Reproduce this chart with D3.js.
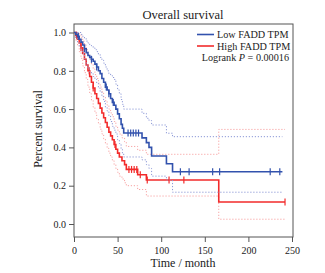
<!DOCTYPE html>
<html>
<head>
<meta charset="utf-8">
<script src="https://cdn.jsdelivr.net/npm/d3@7"></script>
<style>
  body { margin: 0; background: #fff; }
  text { font-family: "Liberation Serif", "DejaVu Serif", serif; fill: #222; }
</style>
</head>
<body>
<div id="chart"></div>
<script>
// Low FADD TPM: step times, survival and 95% CI
const lowTime  = [0, 2, 4, 6, 8, 10, 12, 14, 16, 18, 20, 22, 24, 26, 28, 30, 32, 34, 36, 38, 40, 42, 44, 46, 48, 50, 52, 54, 55.5, 57, 78, 83, 86, 89, 106, 113];
const lowSurv  = [1.0, 0.99, 0.98, 0.965, 0.95, 0.935, 0.915, 0.895, 0.88, 0.87, 0.86, 0.85, 0.835, 0.82, 0.80, 0.785, 0.76, 0.74, 0.715, 0.70, 0.68, 0.655, 0.635, 0.62, 0.60, 0.575, 0.55, 0.52, 0.50, 0.475, 0.45, 0.425, 0.40, 0.355, 0.315, 0.273];
const lowUpper = [1.0, 1.0, 1.0, 1.0, 0.99, 0.98, 0.97, 0.955, 0.945, 0.935, 0.93, 0.92, 0.91, 0.90, 0.885, 0.87, 0.855, 0.84, 0.82, 0.80, 0.785, 0.775, 0.765, 0.755, 0.73, 0.70, 0.68, 0.65, 0.625, 0.60, 0.578, 0.552, 0.54, 0.517, 0.474, 0.456];
const lowLower = [1.0, 0.97, 0.95, 0.93, 0.91, 0.89, 0.86, 0.83, 0.81, 0.795, 0.785, 0.77, 0.755, 0.735, 0.71, 0.69, 0.665, 0.64, 0.61, 0.59, 0.565, 0.535, 0.51, 0.49, 0.47, 0.44, 0.42, 0.39, 0.37, 0.35, 0.335, 0.31, 0.29, 0.25, 0.23, 0.166];
const lowCensor = [5, 12, 20, 26, 37, 40, 45, 62, 65, 68, 71, 74, 122, 132, 159, 167, 225, 236];
const lowEnd = 239;

// High FADD TPM
const highTime  = [0, 2, 4, 6, 8, 10, 12, 14, 16, 18, 20, 22, 24, 26, 28, 30, 32, 34, 36, 38, 40, 42, 44, 46, 48, 50, 52, 55, 58, 60, 73, 83, 166];
const highSurv  = [1.0, 0.985, 0.965, 0.945, 0.92, 0.89, 0.86, 0.83, 0.80, 0.77, 0.74, 0.71, 0.68, 0.655, 0.63, 0.605, 0.58, 0.555, 0.53, 0.505, 0.48, 0.46, 0.44, 0.415, 0.39, 0.37, 0.35, 0.33, 0.31, 0.285, 0.257, 0.23, 0.115];
const highUpper = [1.0, 1.0, 1.0, 0.99, 0.975, 0.955, 0.935, 0.91, 0.885, 0.86, 0.835, 0.81, 0.78, 0.76, 0.735, 0.715, 0.69, 0.665, 0.645, 0.62, 0.60, 0.58, 0.56, 0.535, 0.51, 0.49, 0.47, 0.45, 0.43, 0.405, 0.385, 0.364, 0.494];
const highLower = [1.0, 0.96, 0.93, 0.90, 0.865, 0.825, 0.79, 0.755, 0.715, 0.68, 0.645, 0.61, 0.58, 0.55, 0.525, 0.495, 0.47, 0.445, 0.42, 0.395, 0.37, 0.35, 0.33, 0.31, 0.29, 0.27, 0.25, 0.235, 0.215, 0.20, 0.18, 0.146, 0.025];
const highCensor = [3, 8, 17.5, 22, 47, 63, 66, 69, 72, 76, 84, 109, 126, 242];
const highEnd = 242;

const xTicks = [0, 50, 100, 150, 200, 250];
const yTicks = [0, 0.2, 0.4, 0.6, 0.8, 1.0];

const blue = "#3252ad", red = "#f22b2b";
const blueCI = "#8c98d6", redCI = "#f7a3a3";

const width = 325, height = 273;
const box = { left: 74, right: 293, top: 24, bottom: 237 };

const svg = d3.select("#chart").append("svg")
    .attr("width", width)
    .attr("height", height);

const x = d3.scaleLinear().domain([0, 250]).range([74, 292]);
const y = d3.scaleLinear().domain([0, 1]).range([224, 32.5]);

// frame
svg.append("rect")
    .attr("x", box.left).attr("y", box.top)
    .attr("width", box.right - box.left).attr("height", box.bottom - box.top)
    .attr("fill", "none").attr("stroke", "#555").attr("stroke-width", 1);

// axes
const xAxis = svg.append("g")
    .attr("transform", `translate(0,${box.bottom})`)
    .call(d3.axisBottom(x).tickValues(xTicks).tickSize(5).tickFormat(d3.format("d")));
const yAxis = svg.append("g")
    .attr("transform", `translate(${box.left},0)`)
    .call(d3.axisLeft(y).tickValues(yTicks).tickSize(5).tickFormat(d3.format(".1f")));
[xAxis, yAxis].forEach(g => {
    g.select(".domain").remove();
    g.selectAll("line").attr("stroke", "#555");
    g.selectAll("text").attr("font-size", 10).attr("font-family", "Liberation Serif").attr("fill", "#222");
});
xAxis.selectAll("text").attr("dy", "0.9em");

const line = d3.line()
    .x(d => x(d[0]))
    .y(d => y(d[1]))
    .curve(d3.curveStepAfter);

function series(times, vals, end) {
    const pts = times.map((t, i) => [t, vals[i]]);
    pts.push([end, vals[vals.length - 1]]);
    return pts;
}

function survAt(times, surv, t) {
    let s = surv[0];
    times.forEach((tt, i) => { if (tt <= t) s = surv[i]; });
    return s;
}

function drawGroup(times, surv, lower, upper, censor, end, col, ciCol) {
    [lower, upper].forEach(ci => {
        svg.append("path")
            .datum(series(times, ci, end))
            .attr("d", line)
            .attr("fill", "none")
            .attr("stroke", ciCol)
            .attr("stroke-width", 1)
            .attr("stroke-dasharray", "1.2,1.8");
    });
    svg.append("path")
        .datum(series(times, surv, end))
        .attr("d", line)
        .attr("fill", "none")
        .attr("stroke", col)
        .attr("stroke-width", 1.6);
    svg.selectAll(null)
        .data(censor)
        .enter().append("line")
        .attr("x1", d => x(d)).attr("x2", d => x(d))
        .attr("y1", d => y(survAt(times, surv, d)) - 3.5)
        .attr("y2", d => y(survAt(times, surv, d)) + 3.5)
        .attr("stroke", col)
        .attr("stroke-width", 1.2);
}

drawGroup(highTime, highSurv, highLower, highUpper, highCensor, highEnd, red, redCI);
drawGroup(lowTime, lowSurv, lowLower, lowUpper, lowCensor, lowEnd, blue, blueCI);

// title and axis labels
svg.append("text")
    .attr("x", 183).attr("y", 19)
    .attr("text-anchor", "middle")
    .attr("font-size", 12.5)
    .text("Overall survival");

svg.append("text")
    .attr("x", 183).attr("y", 267)
    .attr("text-anchor", "middle")
    .attr("font-size", 12)
    .text("Time / month");

svg.append("text")
    .attr("transform", "translate(42,129) rotate(-90)")
    .attr("text-anchor", "middle")
    .attr("font-size", 12)
    .text("Percent survival");

// legend
const legend = [{ label: "Low FADD TPM", color: blue }, { label: "High FADD TPM", color: red }];
legend.forEach((d, i) => {
    const ly = 34.5 + i * 11.5;
    svg.append("line")
        .attr("x1", 197).attr("x2", 214)
        .attr("y1", ly).attr("y2", ly)
        .attr("stroke", d.color).attr("stroke-width", 1.6);
    svg.append("text")
        .attr("x", 217).attr("y", ly + 3.5)
        .attr("font-size", 10.2)
        .text(d.label);
});

const lr = svg.append("text")
    .attr("x", 289).attr("y", 60.5)
    .attr("text-anchor", "end")
    .attr("font-size", 10.2);
lr.append("tspan").text("Logrank ");
lr.append("tspan").attr("font-style", "italic").text("P");
lr.append("tspan").text(" = 0.00016");
</script>
</body>
</html>
